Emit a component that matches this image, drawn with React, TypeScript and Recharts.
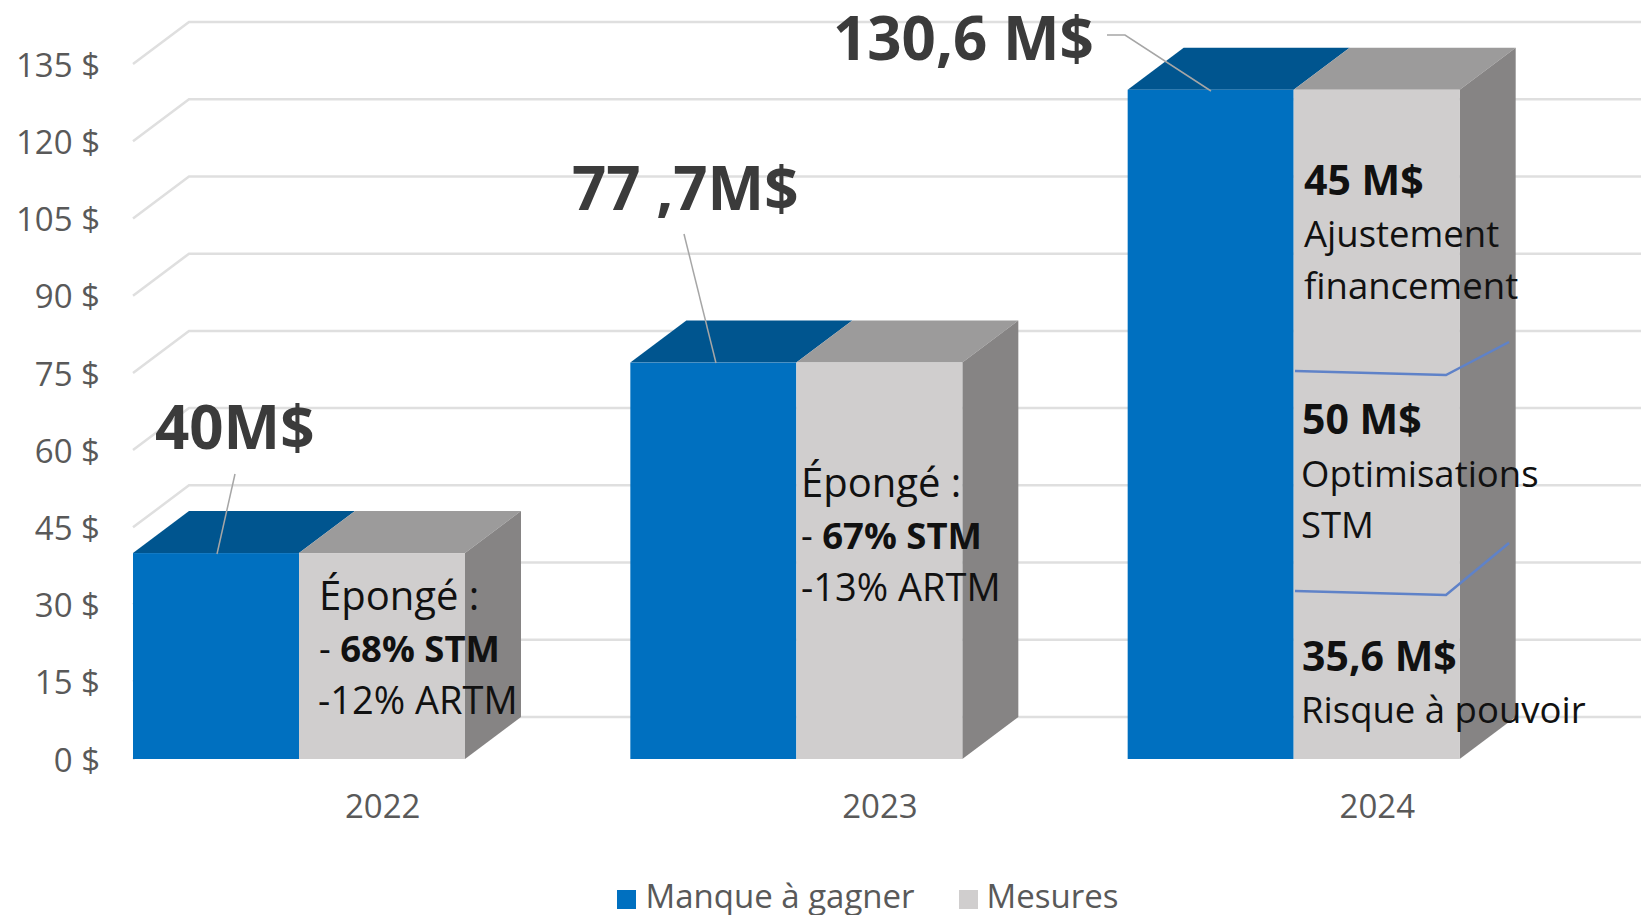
import { BarChart, Bar, XAxis, YAxis, CartesianGrid, Legend } from "recharts";

// ─── Data ─────────────────────────────────────────────────────────────────────

const YEARS = ["2022", "2023", "2024"];
const MANQUE = [40, 77, 130];
const MESURES = [40, 77, 130];
const Y_TICKS = [0, 15, 30, 45, 60, 75, 90, 105, 120, 135];

const CHART_DATA = YEARS.map((year, i) => ({
  year,
  manque: MANQUE[i],
  mesures: MESURES[i],
  depth: 0, // empty third slot, leaves room for the bar side and the gap
}));

// ─── Styles ───────────────────────────────────────────────────────────────────

const WIDTH = 1641;
const HEIGHT = 915;
const DEPTH_X = 56;
const DEPTH_Y = 42;
const FONT = '"Open Sans", sans-serif';
const AXIS_COLOR = "#595959";
const GRID_COLOR = "#dfdfdf";
const NOTE_COLOR = "#111111";
const SEPARATOR_COLOR = "#5f82c8";
const LEADER_COLOR = "#a6a6a6";

const AXIS_TICK = { fontFamily: FONT, fontSize: 33, fill: AXIS_COLOR };

// ─── Shapes ───────────────────────────────────────────────────────────────────

function GridWall({ x1, y1, key }: any) {
  return (
    <polyline
      key={key}
      points={`${x1},${y1} ${x1 + DEPTH_X},${y1 - DEPTH_Y} ${WIDTH},${y1 - DEPTH_Y}`}
      fill="none"
      stroke={GRID_COLOR}
      strokeWidth={2.5}
    />
  );
}

function box(top: string, side?: string) {
  return ({ x, y, width, height, fill }: any) => {
    const base = y + height;
    return (
      <g>
        <polygon
          points={`${x},${y} ${x + DEPTH_X},${y - DEPTH_Y} ${x + width + DEPTH_X},${y - DEPTH_Y} ${x + width},${y}`}
          fill={top}
        />
        {side && (
          <polygon
            points={`${x + width},${y} ${x + width + DEPTH_X},${y - DEPTH_Y} ${x + width + DEPTH_X},${base - DEPTH_Y} ${x + width},${base}`}
            fill={side}
          />
        )}
        <rect x={x} y={y} width={width} height={height} fill={fill} />
      </g>
    );
  };
}

// ─── Annotations ──────────────────────────────────────────────────────────────

const TOTALS = [
  { text: "40M$", x: 155, y: 449 },
  { text: "77 ,7M$", x: 572, y: 210 },
  { text: "130,6 M$", x: 833, y: 60 },
];

const NOTES = [
  { text: "Épongé :", x: 319, y: 610, size: 40 },
  { text: "- ", bold: "68% STM", x: 319, y: 662 },
  { text: "-12% ARTM", x: 318, y: 714, size: 38 },
  { text: "Épongé :", x: 801, y: 497, size: 40 },
  { text: "- ", bold: "67% STM", x: 801, y: 549 },
  { text: "-13% ARTM", x: 801, y: 601, size: 38 },
  { bold: "45 M$", x: 1304, y: 195, size: 41 },
  { text: "Ajustement", x: 1304, y: 247 },
  { text: "financement", x: 1304, y: 299 },
  { bold: "50 M$", x: 1302, y: 434, size: 41 },
  { text: "Optimisations", x: 1301, y: 487 },
  { text: "STM", x: 1301, y: 538 },
  { bold: "35,6 M$", x: 1302, y: 671, size: 41 },
  { text: "Risque à pouvoir", x: 1301, y: 723 },
];

const LEADERS = [
  "235,474 217,554",
  "684,234 716,363",
  "1107,35 1125,35 1211,91",
];

const SEPARATORS = [
  "1295,371 1446,375 1509,342",
  "1295,591 1446,595 1509,543",
];

function Annotations() {
  return (
    <svg
      width={WIDTH}
      height={HEIGHT}
      style={{ position: "absolute", left: 0, top: 0, pointerEvents: "none" }}
    >
      {LEADERS.map((points) => (
        <polyline key={points} points={points} fill="none" stroke={LEADER_COLOR} strokeWidth={1.5} />
      ))}
      {SEPARATORS.map((points) => (
        <polyline key={points} points={points} fill="none" stroke={SEPARATOR_COLOR} strokeWidth={2.5} />
      ))}
      {TOTALS.map((t) => (
        <text key={t.text} x={t.x} y={t.y} fontFamily={FONT} fontSize={60} fontWeight={700} fill="#3b3b3b">
          {t.text}
        </text>
      ))}
      {NOTES.map((n) => (
        <text key={`${n.x}-${n.y}`} x={n.x} y={n.y} fontFamily={FONT} fontSize={n.size ?? 36.5} fill={NOTE_COLOR}>
          {n.text}
          {n.bold && <tspan fontWeight={700}>{n.bold}</tspan>}
        </text>
      ))}
    </svg>
  );
}

// ─── Chart ────────────────────────────────────────────────────────────────────

export default function App() {
  return (
    <div style={{ position: "absolute", left: 0, top: 0, width: WIDTH, height: HEIGHT, overflow: "hidden", background: "#fff" }}>
      <BarChart
        width={WIDTH}
        height={HEIGHT}
        data={CHART_DATA}
        margin={{ top: 64, right: 16, left: 0, bottom: 0 }}
        barCategoryGap={0}
        barGap={0}
      >
        <CartesianGrid vertical={false} horizontal={GridWall} />
        <XAxis
          dataKey="year"
          axisLine={false}
          tickLine={false}
          tickSize={0}
          tickMargin={36}
          height={111}
          tick={{ ...AXIS_TICK, dx: 1 }}
        />
        <YAxis
          width={133}
          domain={[0, 135]}
          ticks={Y_TICKS}
          interval={0}
          axisLine={false}
          tickLine={false}
          tickSize={0}
          tickMargin={33}
          tick={{ ...AXIS_TICK, dy: 1 }}
          tickFormatter={(v) => `${v} $`}
        />
        <Legend
          verticalAlign="bottom"
          iconType="square"
          iconSize={19}
          wrapperStyle={{ fontFamily: FONT, fontSize: 33, bottom: -3, left: 139, width: 1502 }}
          formatter={(value) => <span style={{ color: AXIS_COLOR, paddingLeft: 5, paddingRight: 34 }}>{value}</span>}
        />
        <Bar
          dataKey="manque"
          name="Manque à gagner"
          fill="#0070c0"
          shape={box("#00558f")}
          isAnimationActive={false}
        />
        <Bar
          dataKey="mesures"
          name="Mesures"
          fill="#d0cece"
          shape={box("#9c9b9b", "#868484")}
          isAnimationActive={false}
        />
        <Bar dataKey="depth" legendType="none" fill="none" isAnimationActive={false} />
      </BarChart>
      <Annotations />
    </div>
  );
}
